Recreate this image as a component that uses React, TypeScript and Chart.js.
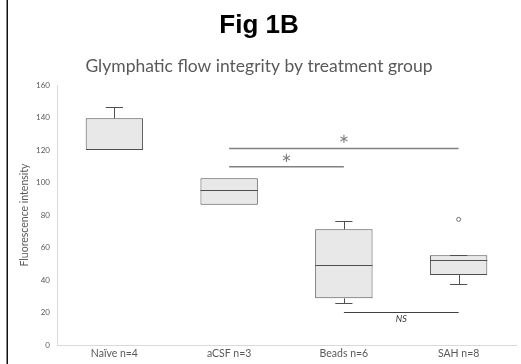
import React, { useEffect, useRef } from 'react';
import { Chart, registerables } from 'chart.js';

Chart.register(...registerables);

// ---- data ----
const categories = ['Naïve n=4', 'aCSF n=3', 'Beads n=6', 'SAH n=8'];
const whiskerMin = [120, 86.3, 26, 37.5];
const quartile1 = [120, 86.3, 28.7, 43.1];
const medians = [120, 95.4, 49, 52.1];
const quartile3 = [139.5, 102.6, 71.2, 55.2];
const whiskerMax = [146.3, 102.6, 76.5, 55.6];
const outliers: (number | null)[] = [null, null, null, 77.3];

const yMin = 0;
const yMax = 160;
const yStep = 20;

// significance brackets (category indices, level in axis units)
const sigFrom = [1, 1, 2];
const sigTo = [3, 2, 3];
const sigLevel = [121, 109.7, 20.3];
const sigLabel = ['*', '*', 'NS'];

const titleText = 'Fig 1B';
const subtitleText = 'Glymphatic flow integrity by treatment group';
const yTitleText = 'Fluorescence intensity';

// ---- styles ----
const BOX_FILL = '#e8e8e8';
const BOX_LINE = '#505050';
const AXIS_LINE = '#d9d9d9';
const TEXT_GRAY = '#595959';
const SIG_GRAY = '#808080';
const FONT = 'Lato, "Open Sans", sans-serif';

const extrasPlugin = {
  id: 'boxExtras',
  beforeDraw(chart: any) {
    const ctx = chart.ctx;
    ctx.save();
    ctx.fillStyle = '#ffffff';
    ctx.fillRect(0, 0, chart.width, chart.height);
    ctx.strokeStyle = '#111111';
    ctx.lineWidth = 1.5;
    ctx.beginPath();
    ctx.moveTo(7.25, 0);
    ctx.lineTo(7.25, chart.height);
    ctx.stroke();
    ctx.restore();
  },
  afterDatasetsDraw(chart: any) {
    const { ctx } = chart;
    const xs = chart.scales.x;
    const ys = chart.scales.y;
    const step = xs.getPixelForValue(1) - xs.getPixelForValue(0);
    const boxHalf = step * 0.25;
    const capHalf = step * 0.075;
    const px = (v: number) => Math.round(v) + 0.5;
    const line = (x1: number, y1: number, x2: number, y2: number) => {
      ctx.beginPath();
      ctx.moveTo(x1, y1);
      ctx.lineTo(x2, y2);
      ctx.stroke();
    };
    ctx.save();
    ctx.strokeStyle = BOX_LINE;
    ctx.lineWidth = 1;
    categories.forEach((_, i) => {
      const cx = xs.getPixelForValue(i);
      if (medians[i] > quartile1[i] && medians[i] < quartile3[i]) {
        const ym = px(ys.getPixelForValue(medians[i]));
        line(cx - boxHalf, ym, cx + boxHalf, ym);
      }
      if (whiskerMax[i] > quartile3[i]) {
        const yq = ys.getPixelForValue(quartile3[i]);
        const yw = px(ys.getPixelForValue(whiskerMax[i]));
        line(px(cx), yq, px(cx), yw);
        line(cx - capHalf, yw, cx + capHalf, yw);
      }
      if (whiskerMin[i] < quartile1[i]) {
        const yq = ys.getPixelForValue(quartile1[i]);
        const yw = px(ys.getPixelForValue(whiskerMin[i]));
        line(px(cx), yq, px(cx), yw);
        line(cx - capHalf, yw, cx + capHalf, yw);
      }
    });
    // significance brackets
    sigLabel.forEach((lab, k) => {
      const x1 = xs.getPixelForValue(sigFrom[k]);
      const x2 = xs.getPixelForValue(sigTo[k]);
      const yl = ys.getPixelForValue(sigLevel[k]);
      const isNS = lab === 'NS';
      ctx.strokeStyle = isNS ? '#404040' : SIG_GRAY;
      ctx.lineWidth = isNS ? 1 : 1.5;
      line(Math.min(x1, x2), isNS ? px(yl) : yl, Math.max(x1, x2), isNS ? px(yl) : yl);
      const mx = (x1 + x2) / 2;
      ctx.textAlign = 'center';
      ctx.textBaseline = 'middle';
      if (isNS) {
        ctx.fillStyle = '#333333';
        ctx.font = 'italic 9px ' + FONT;
        ctx.fillText(lab, mx, yl + 7.5);
      } else {
        ctx.fillStyle = SIG_GRAY;
        ctx.font = '13px "DejaVu Sans", sans-serif';
        ctx.fillText('\u2217', mx, yl - 8.5);
      }
    });
    ctx.restore();
  },
};

export default function App() {
  const canvasRef = useRef<HTMLCanvasElement | null>(null);

  useEffect(() => {
    document.body.style.margin = '0';
    const canvas = canvasRef.current;
    if (!canvas) return;
    const chart = new Chart(canvas, {
      type: 'bar',
      data: {
        labels: categories,
        datasets: [
          {
            type: 'bar',
            data: categories.map((_, i) => [quartile1[i], quartile3[i]]) as any,
            backgroundColor: BOX_FILL,
            borderColor: BOX_LINE,
            borderWidth: 1,
            borderSkipped: false,
            categoryPercentage: 1,
            barPercentage: 0.5,
          } as any,
          {
            type: 'line',
            data: outliers as any,
            showLine: false,
            pointRadius: 2,
            pointBorderWidth: 1,
            pointBorderColor: '#707070',
            pointBackgroundColor: '#ffffff',
          } as any,
        ],
      },
      options: {
        responsive: false,
        animation: false,
        devicePixelRatio: 1,
        layout: { padding: { left: 0, right: 3, top: 0, bottom: 0 } },
        plugins: {
          legend: { display: false },
          tooltip: { enabled: false },
          title: {
            display: true,
            text: titleText,
            color: '#000000',
            font: { family: '"Liberation Sans", Arial, sans-serif', size: 26, weight: 'bold' },
            padding: { top: 10.5, bottom: 0 },
          },
          subtitle: {
            display: true,
            text: subtitleText,
            color: TEXT_GRAY,
            font: { family: FONT, size: 17.5 },
            padding: { top: 14, bottom: 8.3 },
          },
        },
        scales: {
          x: {
            type: 'category',
            offset: true,
            grid: { display: false, drawTicks: false },
            border: { display: true, color: AXIS_LINE, width: 1 },
            ticks: { color: TEXT_GRAY, font: { family: FONT, size: 10.5 }, padding: 2, maxRotation: 0 },
            afterFit: (scale: any) => {
              scale.height = 19;
            },
          },
          y: {
            type: 'linear',
            min: yMin,
            max: yMax,
            grid: { display: false, drawTicks: false },
            border: { display: true, color: AXIS_LINE, width: 1 },
            ticks: { stepSize: yStep, color: TEXT_GRAY, font: { family: FONT, size: 8 }, padding: 7 },
            title: {
              display: true,
              text: yTitleText,
              color: TEXT_GRAY,
              font: { family: FONT, size: 10.5 },
              padding: { top: 18, bottom: 0 },
            },
            afterFit: (scale: any) => {
              scale.width = 57;
            },
          },
        },
      },
      plugins: [extrasPlugin],
    });
    return () => chart.destroy();
  }, []);

  return (
    <div style={{ position: 'absolute', left: 0, top: 0, width: 521, height: 364 }}>
      <canvas ref={canvasRef} width={521} height={364} style={{ width: 521, height: 364, display: 'block' }} />
    </div>
  );
}
